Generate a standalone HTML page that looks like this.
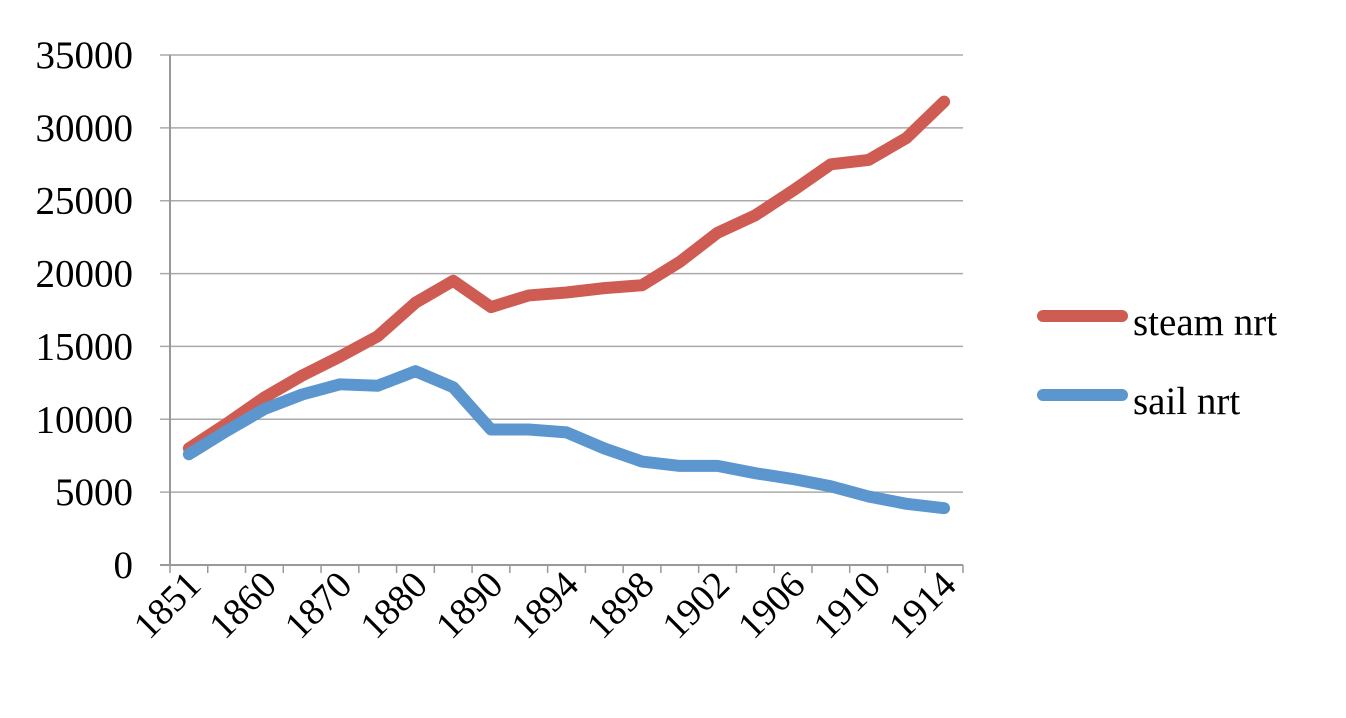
<!DOCTYPE html>
<html><head><meta charset="utf-8"><style>
body{margin:0;background:#fff;}
text{font-family:"Liberation Serif",serif;fill:#000;}
</style></head><body>
<svg id="chart" width="1346" height="713" xmlns="http://www.w3.org/2000/svg"></svg>
<script>
const categories=["1851","1855","1860","1865","1870","1875","1880","1885","1890","1892","1894","1896","1898","1900","1902","1904","1906","1908","1910","1912","1914"];
const steam=[8000,9700,11500,13000,14300,15700,18000,19500,17700,18500,18700,19000,19200,20800,22800,24000,25700,27500,27800,29300,31800];
const sail=[7600,9200,10700,11700,12400,12300,13300,12200,9300,9300,9100,8000,7100,6800,6800,6300,5900,5400,4700,4200,3900];
const yTicks=[0,5000,10000,15000,20000,25000,30000,35000];
const svg=document.getElementById('chart');const NS='http://www.w3.org/2000/svg';
const X0=170,X1=963,Y0=565,Y1=55,YMAX=35000;
const step=(X1-X0)/categories.length;
const xs=i=>X0+step*(i+0.5);
const ys=v=>Y0-(v/YMAX)*(Y0-Y1);
function mk(t,a,p){const e=document.createElementNS(NS,t);for(const k in a)e.setAttribute(k,a[k]);(p||svg).appendChild(e);return e;}
yTicks.forEach(v=>{
 const g=mk('line',{x1:160,x2:X1,y1:ys(v),y2:ys(v),stroke:v===0?'#999':'#aaa','stroke-width':v===0?2:1.5});
 
 
 const t=mk('text',{x:133,y:ys(v)+13,'text-anchor':'end','font-size':39});t.textContent=v;
 
 
});
const ax=mk('line',{x1:X0,x2:X0,y1:Y1,y2:Y0,stroke:'#999','stroke-width':2});


for(let i=0;i<=categories.length;i++){
 const tk=mk('line',{x1:X0+step*i,x2:X0+step*i,y1:Y0,y2:Y0+8,stroke:'#999','stroke-width':1.5});
 
 
}
categories.forEach((c,i)=>{
 if(i%2)return;
 const x=xs(i)+14,y=Y0+22;
 const t=mk('text',{x:x,y:y,'text-anchor':'end','font-size':38,transform:`rotate(-45 ${x} ${y})`});t.textContent=c;
 
 
});
function series(d,col,name){
 const p=mk('polyline',{points:d.map((v,i)=>xs(i)+','+ys(v)).join(' '),fill:'none',stroke:col,'stroke-width':12,'stroke-linejoin':'round','stroke-linecap':'round'});
 
 
}
series(steam,'#cf5c53','steam-line');
series(sail,'#5b96cf','sail-line');
[['steam nrt','#cf5c53',316],['sail nrt','#5b96cf',395]].forEach(([n,c,y])=>{
 const l=mk('line',{x1:1043,x2:1122,y1:y,y2:y,stroke:c,'stroke-width':12,'stroke-linecap':'round'});
 
 
 const t=mk('text',{x:1133,y:y+19,'font-size':39});t.textContent=n;
 
 
});
</script>
</body></html>
